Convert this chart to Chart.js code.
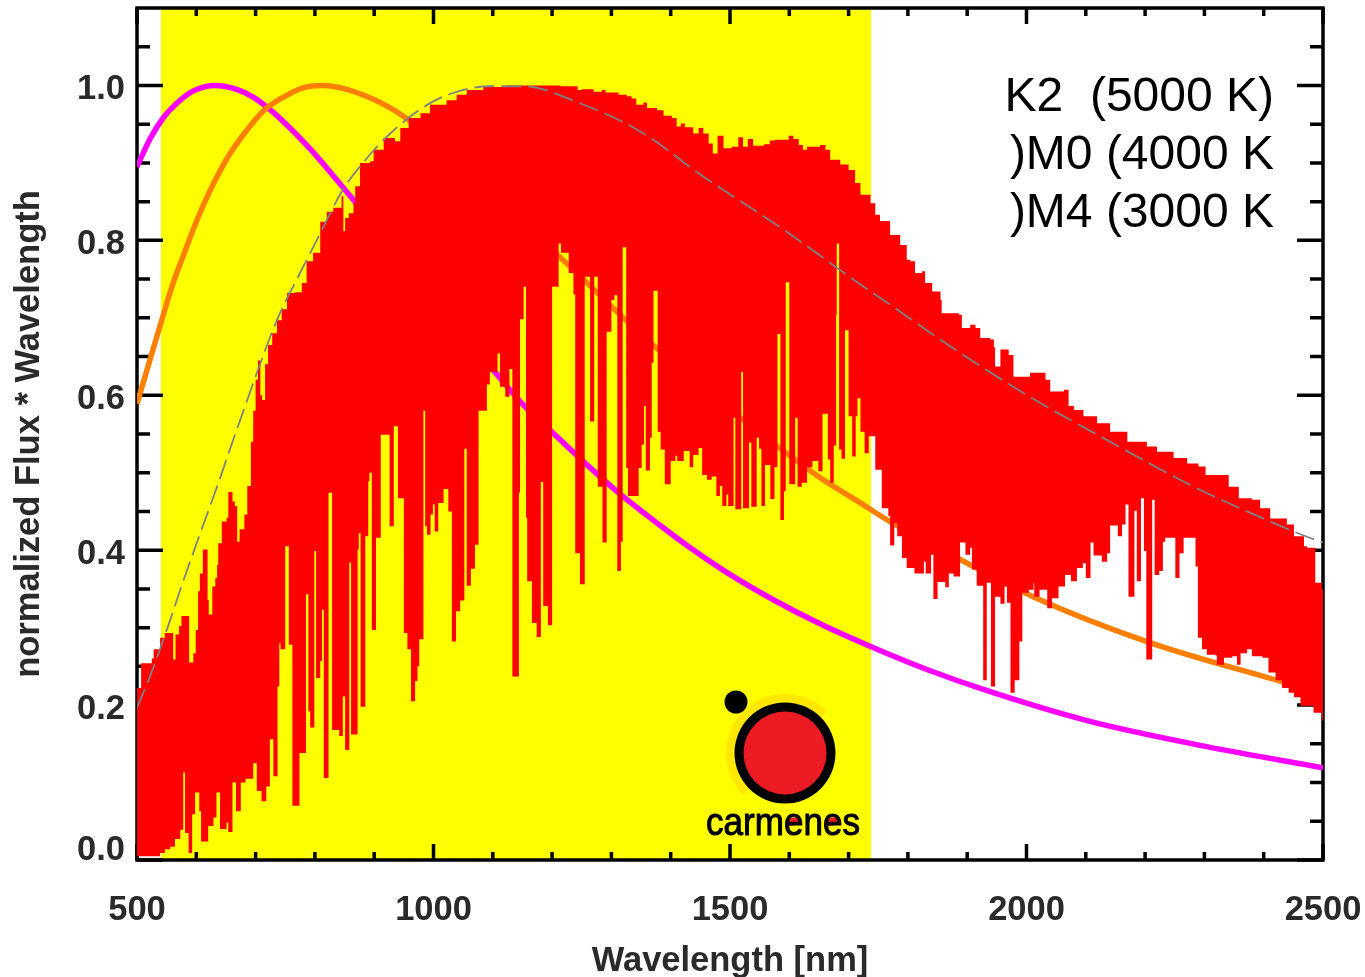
<!DOCTYPE html>
<html>
<head>
<meta charset="utf-8">
<style>html,body{margin:0;padding:0;background:#fff}canvas{display:block}</style>
<script src="https://cdn.jsdelivr.net/npm/chart.js@4/dist/chart.umd.js"></script>
</head>
<body>
<canvas id="c" width="1365" height="977"></canvas>
<script>
const X_LABEL = 'Wavelength [nm]';
const Y_LABEL = 'normalized Flux * Wavelength';
const STAR_LABELS = ['K2  (5000 K)', ')M0 (4000 K', ')M4 (3000 K'];
const LOGO_TEXT = 'carmenes';
const X_MAJOR = [500, 1000, 1500, 2000, 2500];
const X_MINOR = [600,700,800,900,1100,1200,1300,1400,1600,1700,1800,1900,2100,2200,2300,2400];
const Y_MAJOR = [0, 0.2, 0.4, 0.6, 0.8, 1.0];
const Y_MINOR = [0.05,0.1,0.15,0.25,0.3,0.35,0.45,0.5,0.55,0.65,0.7,0.75,0.85,0.9,0.95,1.05];
const BAND = [[540,1.1],[1738,1.1]];

const CURVE_K2 = [[500,.895],[522,.931],[544,.958],[567,.977],[595,.993],[632,1],[668,.995],[696,.985],[724,.969],[758,.945],[792,.918],[826,.888],[863,.854],[920,.80],[1000,.723],[1107,.627],[1151,.588],[1202,.551],[1252,.515],[1320,.469],[1377,.435],[1433,.403],[1495,.371],[1573,.336],[1657,.303],[1736,.276],[1832,.246],[1944,.216],[2107,.179],[2300,.147],[2500,.119]];
const CURVE_M0 = [[500,.589],[539,.69],[561,.745],[578,.78],[601,.826],[623,.864],[652,.906],[679,.936],[713,.967],[747,.985],[780,.997],[814,1],[854,.995],[893,.984],[927,.971],[957,.956],[1000,.931],[1050,.897],[1218,.775],[1258,.746],[1302,.713],[1373,.663],[1640,.50],[1720,.461],[1765,.439],[1888,.388],[2011,.34],[2203,.282],[2440,.228]];
const CURVE_M4 = [[500,.197],[522,.237],[556,.31],[573,.349],[601,.41],[635,.482],[668,.555],[736,.697],[769,.749],[803,.80],[847,.865],[881,.90],[927,.938],[983,.972],[1028,.989],[1095,.999],[1151,.999],[1247,.977],[1350,.94],[1450,.885],[1590,.814],[1720,.743],[1770,.717],[1860,.669],[2001,.60],[2141,.54],[2282,.482],[2423,.433],[2474,.417],[2500,.41]];

const SPEC_UPPER = [[500,.222],[507,.254],[525,.26],[528,.272],[539,.287],[547,.293],[561,.259],[565,.291],[571,.302],[575,.315],[588,.255],[595,.267],[599,.297],[603,.347],[606,.37],[611,.401],[619,.336],[621,.317],[627,.353],[632,.364],[635,.381],[637,.409],[643,.437],[651,.442],[654,.475],[661,.463],[665,.457],[669,.411],[673,.427],[681,.446],[686,.483],[692,.54],[696,.58],[700,.62],[704,.645],[708,.60],[711,.594],[716,.64],[721,.665],[728,.68],[736,.697],[744,.711],[753,.732],[767,.733],[778,.745],[786,.773],[797,.784],[809,.824],[820,.837],[831,.842],[845,.857],[848,.812],[851,.829],[857,.835],[865,.848],[868,.87],[876,.90],[893,.902],[899,.917],[916,.932],[935,.928],[944,.945],[958,.958],[978,.964],[994,.975],[1022,.981],[1039,.988],[1056,.994],[1084,.998],[1124,1],[1163,1],[1214,.999],[1239,.999],[1243,.994],[1250,.995],[1270,.992],[1284,.994],[1290,.991],[1312,.988],[1326,.986],[1334,.983],[1342,.975],[1354,.978],[1360,.971],[1377,.968],[1388,.961],[1402,.958],[1410,.947],[1417,.951],[1424,.946],[1438,.938],[1447,.945],[1455,.938],[1464,.925],[1471,.912],[1479,.935],[1489,.919],[1503,.921],[1514,.933],[1522,.921],[1530,.931],[1539,.922],[1557,.924],[1567,.929],[1576,.93],[1599,.935],[1607,.931],[1616,.923],[1623,.917],[1630,.921],[1652,.923],[1661,.917],[1669,.904],[1686,.898],[1700,.891],[1711,.874],[1720,.859],[1737,.848],[1745,.833],[1753,.825],[1770,.807],[1787,.794],[1798,.775],[1804,.773],[1812,.758],[1824,.76],[1829,.745],[1841,.734],[1855,.723],[1857,.706],[1886,.704],[1891,.687],[1905,.691],[1914,.687],[1922,.674],[1939,.672],[1945,.662],[1947,.637],[1956,.659],[1970,.652],[1978,.624],[2006,.629],[2032,.62],[2040,.605],[2063,.607],[2071,.586],[2080,.581],[2096,.573],[2119,.564],[2141,.553],[2161,.553],[2170,.54],[2203,.534],[2220,.527],[2248,.519],[2271,.512],[2290,.508],[2302,.497],[2341,.482],[2358,.467],[2380,.465],[2394,.454],[2411,.441],[2439,.433],[2451,.418],[2468,.405],[2473,.403],[2487,.358],[2498,.35],[2500,.35]];

const SPEC_LOWER = [[500,.005],[539,.009],[547,.014],[556,.017],[564,.027],[573,.039],[578,.113],[581,.035],[587,.009],[593,.059],[598,.087],[605,.063],[608,.024],[620,.044],[629,.055],[634,.087],[640,.04],[651,.048],[654,.036],[661,.10],[667,.063],[675,.10],[683,.105],[696,.125],[702,.089],[710,.076],[718,.095],[724,.156],[730,.108],[737,.224],[740,.28],[742,.272],[750,.405],[756,.278],[762,.07],[774,.138],[785,.343],[789,.192],[792,.171],[799,.399],[802,.235],[809,.257],[812,.323],[815,.106],[823,.474],[829,.168],[841,.16],[847,.211],[851,.142],[858,.384],[861,.162],[872,.401],[874,.422],[877,.198],[885,.418],[890,.489],[892,.50],[896,.297],[903,.416],[911,.549],[926,.431],[933,.56],[940,.467],[950,.293],[956,.272],[962,.205],[969,.231],[973,.25],[976,.285],[983,.58],[986,.431],[989,.42],[995,.446],[999,.459],[1002,.424],[1008,.461],[1017,.479],[1025,.45],[1031,.282],[1038,.321],[1045,.335],[1052,.531],[1056,.354],[1063,.376],[1070,.407],[1076,.58],[1090,.614],[1095,.63],[1108,.654],[1112,.611],[1121,.598],[1128,.634],[1133,.237],[1144,.474],[1146,.698],[1152,.74],[1156,.442],[1158,.36],[1166,.306],[1174,.288],[1181,.488],[1185,.328],[1193,.303],[1200,.74],[1211,.796],[1215,.784],[1228,.758],[1236,.73],[1239,.396],[1247,.356],[1255,.753],[1264,.566],[1271,.753],[1277,.482],[1285,.41],[1292,.682],[1300,.723],[1305,.729],[1310,.373],[1316,.411],[1319,.791],[1325,.506],[1328,.47],[1346,.506],[1351,.536],[1355,.586],[1358,.503],[1365,.545],[1368,.642],[1371,.735],[1378,.553],[1383,.53],[1390,.485],[1397,.485],[1400,.515],[1408,.522],[1411,.515],[1422,.528],[1432,.507],[1438,.523],[1447,.532],[1453,.497],[1461,.491],[1469,.495],[1477,.47],[1483,.483],[1487,.457],[1494,.472],[1497,.457],[1506,.571],[1509,.453],[1519,.63],[1522,.454],[1532,.539],[1536,.456],[1545,.545],[1549,.531],[1553,.457],[1559,.51],[1568,.466],[1575,.507],[1580,.679],[1585,.439],[1591,.476],[1594,.746],[1600,.485],[1610,.571],[1614,.482],[1621,.487],[1630,.507],[1639,.515],[1649,.502],[1656,.576],[1665,.517],[1669,.487],[1675,.535],[1679,.704],[1680,.796],[1684,.53],[1688,.518],[1694,.684],[1700,.573],[1706,.521],[1712,.573],[1715,.596],[1720,.553],[1727,.525],[1734,.547],[1745,.504],[1756,.454],[1767,.444],[1770,.406],[1777,.435],[1782,.418],[1790,.39],[1798,.377],[1811,.37],[1827,.385],[1830,.37],[1839,.394],[1843,.337],[1850,.359],[1863,.352],[1869,.37],[1877,.366],[1888,.41],[1897,.394],[1905,.403],[1908,.375],[1916,.354],[1927,.232],[1933,.358],[1940,.224],[1947,.34],[1956,.331],[1963,.353],[1967,.332],[1973,.216],[1980,.232],[1988,.282],[1993,.345],[2004,.349],[2012,.358],[2013,.34],[2022,.349],[2035,.325],[2043,.338],[2054,.353],[2065,.368],[2075,.36],[2085,.377],[2095,.383],[2100,.364],[2108,.41],[2113,.393],[2127,.385],[2136,.396],[2141,.432],[2154,.418],[2161,.433],[2167,.459],[2172,.34],[2182,.451],[2186,.36],[2193,.467],[2198,.399],[2202,.259],[2212,.465],[2216,.368],[2224,.373],[2230,.411],[2234,.416],[2251,.364],[2258,.396],[2265,.416],[2285,.379],[2289,.287],[2296,.272],[2304,.265],[2319,.264],[2321,.252],[2333,.261],[2347,.263],[2355,.252],[2361,.267],[2372,.272],[2380,.263],[2398,.261],[2408,.242],[2420,.232],[2431,.222],[2442,.216],[2451,.21],[2462,.199],[2484,.19],[2498,.18],[2500,.18]];

const pts = a => a.map(p => ({x:p[0], y:p[1]}));
const noPad = s => { s.paddingLeft = s.paddingRight = s.paddingTop = s.paddingBottom = 0; };

const decor = {
  id:'decor',
  afterDatasetDraw(chart, args){
    if (args.index !== 0) return;
    const c = chart.ctx, a = chart.chartArea, xs = chart.scales.x, ys = chart.scales.y;
    c.save();
    c.strokeStyle = '#000';
    c.lineWidth = 3.5;
    c.strokeRect(a.left, a.top, a.right-a.left, a.bottom-a.top);
    const xt = (v,len) => { const p = xs.getPixelForValue(v);
      c.beginPath(); c.moveTo(p,a.bottom); c.lineTo(p,a.bottom-len); c.moveTo(p,a.top); c.lineTo(p,a.top+len); c.stroke(); };
    const yt = (v,len) => { const p = ys.getPixelForValue(v);
      c.beginPath(); c.moveTo(a.left,p); c.lineTo(a.left+len,p); c.moveTo(a.right,p); c.lineTo(a.right-len,p); c.stroke(); };
    X_MINOR.forEach(v => xt(v,8));
    X_MAJOR.forEach(v => xt(v,16));
    Y_MINOR.forEach(v => yt(v,13));
    Y_MAJOR.forEach(v => yt(v,26));
    c.restore();
  },
  afterDraw(chart){
    const c = chart.ctx;
    c.save();
    c.fillStyle = '#000';
    c.font = '48px "Liberation Sans"';
    c.textAlign = 'right';
    c.textBaseline = 'alphabetic';
    STAR_LABELS.forEach((s,i) => c.fillText(s, 1274, 111 + i*58));
    // logo
    const cx = 785, cy = 753;
    c.strokeStyle = '#ffe800';
    c.lineWidth = 9;
    c.beginPath(); c.arc(cx,cy,54.5,Math.PI*0.75,Math.PI*1.75); c.stroke();
    c.fillStyle = '#000';
    c.beginPath(); c.arc(cx,cy,50.5,0,Math.PI*2); c.fill();
    c.fillStyle = '#ed1c24';
    c.beginPath(); c.arc(cx,cy,41.5,0,Math.PI*2); c.fill();
    c.beginPath(); c.ellipse(793.5,821.5,7,4,-0.3,0,Math.PI*2); c.fill();
    c.beginPath(); c.ellipse(832.5,821.5,7,4,-0.3,0,Math.PI*2); c.fill();
    c.fillStyle = '#000';
    c.beginPath(); c.arc(736,702,11.5,0,Math.PI*2); c.fill();
    c.textAlign = 'left';
    c.font = '38px "Liberation Sans"';
    c.strokeStyle = '#000';
    c.lineWidth = 1;
    c.fillText(LOGO_TEXT, 706, 835, 154);
    c.strokeText(LOGO_TEXT, 706, 835, 154);
    c.restore();
  }
};

const tickFont = ctx => ({family:'"Liberation Sans"', size:34.5, weight:'bold',
  lineHeight: ctx.tick && ctx.tick.value === 0 ? 0.55 : 0.232});

new Chart(document.getElementById('c'), {
  type:'line',
  plugins:[decor],
  data:{datasets:[
    {label:'CARMENES range', data:pts(BAND), order:6, fill:'origin', backgroundColor:'#ffff00', borderWidth:0, pointRadius:0},
    {label:'K2', data:pts(CURVE_K2), order:5, borderColor:'#ff00ff', borderWidth:5.5, pointRadius:0, fill:false, cubicInterpolationMode:'monotone'},
    {label:'M0', data:pts(CURVE_M0), order:4, borderColor:'#ff8000', borderWidth:5.5, pointRadius:0, fill:false, cubicInterpolationMode:'monotone'},
    {label:'spectrum upper', data:pts(SPEC_UPPER), order:3, stepped:'before', borderWidth:0, pointRadius:0, backgroundColor:'#ff0000', fill:'+1'},
    {label:'spectrum lower', data:pts(SPEC_LOWER), order:2, stepped:'before', borderWidth:0, pointRadius:0, fill:false},
    {label:'M4', data:pts(CURVE_M4), order:1, borderColor:'#808080', borderWidth:1.8, borderDash:[20,7], pointRadius:0, fill:false, cubicInterpolationMode:'monotone'}
  ]},
  options:{
    responsive:false,
    animation:false,
    layout:{padding:{left:0,top:8,right:42,bottom:0}},
    plugins:{legend:{display:false},tooltip:{enabled:false}},
    scales:{
      x:{type:'linear',min:500,max:2500,
        grid:{display:false,drawTicks:false},border:{display:false},
        afterBuildTicks(s){s.ticks = X_MAJOR.map(v=>({value:v}));},
        afterFit(s){s.height = 117; noPad(s);},
        ticks:{autoSkip:false,maxRotation:0,padding:30,color:'#2a2a2a',font:{family:'"Liberation Sans"',size:34.5,weight:'bold'},callback:v=>String(v)},
        title:{display:true,text:X_LABEL,color:'#2a2a2a',font:{family:'"Liberation Sans"',size:34.5,weight:'bold',lineHeight:1},padding:{top:-2,bottom:-2}}
      },
      y:{type:'linear',min:0,max:1.1,
        grid:{display:false,drawTicks:false},border:{display:false},
        afterBuildTicks(s){s.ticks = Y_MAJOR.map(v=>({value:v}));},
        afterFit(s){s.width = 137; noPad(s);},
        ticks:{autoSkip:false,padding:12,color:'#2a2a2a',font:tickFont,callback:v=>v===0?['0.0','']:['',v.toFixed(1)]},
        title:{display:true,text:Y_LABEL,color:'#2a2a2a',font:{family:'"Liberation Sans"',size:34.5,weight:'bold',lineHeight:1},padding:{top:12,bottom:12}}
      }
    }
  }
});
</script>
</body>
</html>
